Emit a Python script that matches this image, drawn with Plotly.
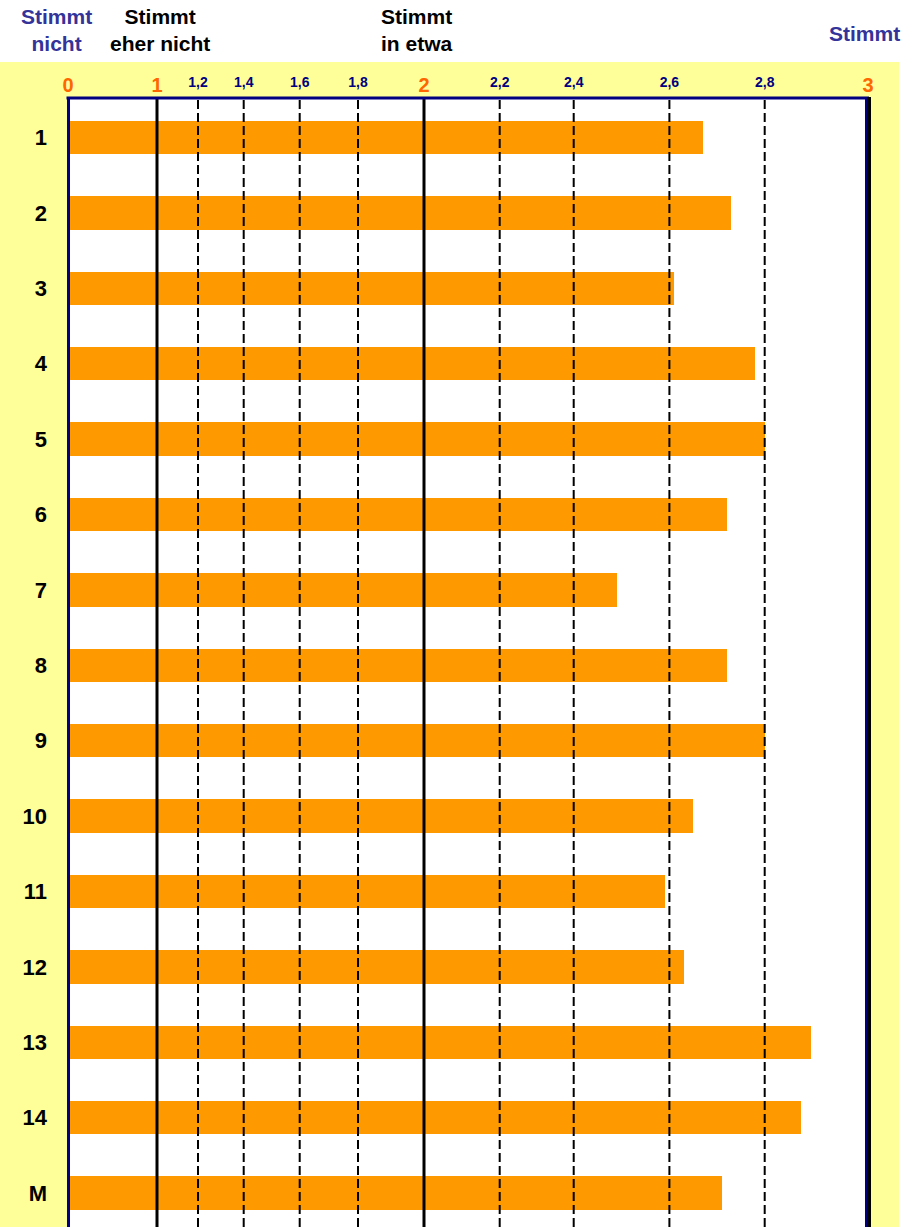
import numpy as np
import plotly.graph_objects as go

# ---- data ----
categories = ["1", "2", "3", "4", "5", "6", "7", "8", "9", "10", "11", "12", "13", "14", "M"]
values = [2.67, 2.73, 2.61, 2.78, 2.80, 2.72, 2.49, 2.72, 2.80, 2.65, 2.59, 2.63, 2.89, 2.87, 2.71]
major_ticks = [0, 1, 2, 3]
major_labels = ["0", "1", "2", "3"]
minor_ticks = [1.2, 1.4, 1.6, 1.8, 2.2, 2.4, 2.6, 2.8]
minor_labels = ["1,2", "1,4", "1,6", "1,8", "2,2", "2,4", "2,6", "2,8"]

# ---- nonlinear scale of the original chart (value -> axis position) ----
scale_vals = [0, 1, 1.2, 1.4, 1.6, 1.8, 2, 2.2, 2.4, 2.6, 2.8, 3]
scale_pos = [0, 89, 130, 175.7, 231.7, 290, 356, 431.7, 505.7, 601.4, 696.7, 800]


def sc(v):
    return np.interp(v, scale_vals, scale_pos)


W, H = 922, 1227
L, R, T, B = 68, 54, 97, 0
PW, PH = W - L - R, H - T - B

ORANGE = "#FF9900"
ORANGE_TXT = "#FF6600"
NAVY = "#000080"
NAVY_TXT = "#333399"
YELLOW = "#FFFF99"
FONT = "Liberation Sans, Arial, sans-serif"


def px_x(p):
    return (p - L) / PW


def px_y(p):
    return (H - p) / PH


fig = go.Figure()
fig.add_trace(go.Bar(
    x=sc(values), y=categories, orientation="h", width=0.444,
    marker=dict(color=ORANGE, line=dict(width=0)), hoverinfo="skip", showlegend=False,
))
# invisible trace to carry second top axis
fig.add_trace(go.Scatter(x=[0, 800], y=[categories[0], categories[0]], xaxis="x2",
                         mode="markers", marker=dict(opacity=0), showlegend=False, hoverinfo="skip"))

shapes = []
# yellow background and white plot area
shapes.append(dict(type="rect", xref="paper", yref="paper", x0=px_x(0), x1=px_x(899),
                   y0=px_y(H), y1=px_y(62), fillcolor=YELLOW, line=dict(width=0), layer="below"))
shapes.append(dict(type="rect", xref="paper", yref="paper", x0=0, x1=1, y0=0, y1=1,
                   fillcolor="white", line=dict(width=0), layer="below"))
# vertical lines
for v in [1, 2]:
    shapes.append(dict(type="line", xref="x", yref="paper", x0=sc(v), x1=sc(v), y0=0, y1=1,
                       line=dict(color="black", width=3)))
for v in minor_ticks:
    shapes.append(dict(type="line", xref="x", yref="paper", x0=sc(v), x1=sc(v), y0=0, y1=1,
                       line=dict(color="black", width=2, dash="9px,4px")))
# borders
shapes.append(dict(type="line", xref="paper", yref="paper", x0=px_x(66.5), x1=px_x(869), y0=px_y(98), y1=px_y(98),
                   line=dict(color=NAVY, width=3)))
shapes.append(dict(type="line", xref="paper", yref="paper", x0=px_x(68.5), x1=px_x(68.5), y0=0, y1=px_y(97),
                   line=dict(color=NAVY, width=3)))
shapes.append(dict(type="line", xref="paper", yref="paper", x0=px_x(866), x1=px_x(866), y0=0, y1=px_y(97),
                   line=dict(color=NAVY, width=2)))
shapes.append(dict(type="line", xref="paper", yref="paper", x0=px_x(869), x1=px_x(869), y0=0, y1=px_y(97),
                   line=dict(color="black", width=4)))

annotations = []
hdr = dict(family=FONT, size=21)
annotations.append(dict(xref="paper", yref="paper", x=px_x(56), y=px_y(30), text="<b>Stimmt<br>nicht</b>",
                        showarrow=False, xanchor="center", yanchor="middle",
                        font=dict(hdr, color=NAVY_TXT)))
annotations.append(dict(xref="paper", yref="paper", x=px_x(160), y=px_y(30), text="<b>Stimmt<br>eher nicht</b>",
                        showarrow=False, xanchor="center", yanchor="middle",
                        font=dict(hdr, color="black")))
annotations.append(dict(xref="paper", yref="paper", x=px_x(417), y=px_y(30), text="<b>Stimmt<br>in etwa</b>",
                        showarrow=False, xanchor="center", yanchor="middle",
                        font=dict(hdr, color="black")))
annotations.append(dict(xref="paper", yref="paper", x=px_x(902), y=px_y(33), text="<b>Stimmt</b>",
                        showarrow=False, xanchor="right", yanchor="middle",
                        font=dict(hdr, color=NAVY_TXT)))

fig.update_layout(
    width=W, height=H,
    margin=dict(l=L, r=R, t=T, b=B, pad=0),
    paper_bgcolor="white", plot_bgcolor="rgba(0,0,0,0)",
    bargap=0,
    shapes=shapes, annotations=annotations,
    xaxis=dict(range=[0, 800], side="top", tickmode="array", tickvals=sc(major_ticks), ticktext=major_labels,
               showgrid=False, zeroline=False, showline=False, ticks="",
               ticklabelstandoff=0,
               tickfont=dict(family=FONT, size=20, color=ORANGE_TXT, weight="bold")),
    xaxis2=dict(range=[0, 800], side="top", overlaying="x", anchor="y", tickmode="array",
                tickvals=sc(minor_ticks), ticktext=minor_labels,
                showgrid=False, zeroline=False, showline=False, ticks="",
                ticklabelstandoff=6,
                tickfont=dict(family=FONT, size=14, color=NAVY, weight="bold")),
    yaxis=dict(type="category", categoryorder="array", categoryarray=categories,
               range=[14.45, -0.537], showgrid=False, zeroline=False, showline=False, ticks="",
               ticklabelstandoff=20,
               tickfont=dict(family=FONT, size=22, color="black", weight="bold")),
)

fig.write_html("out.html", config={"displayModeBar": False},
               post_script="document.body.style.margin='0';document.body.style.overflow='hidden';")
